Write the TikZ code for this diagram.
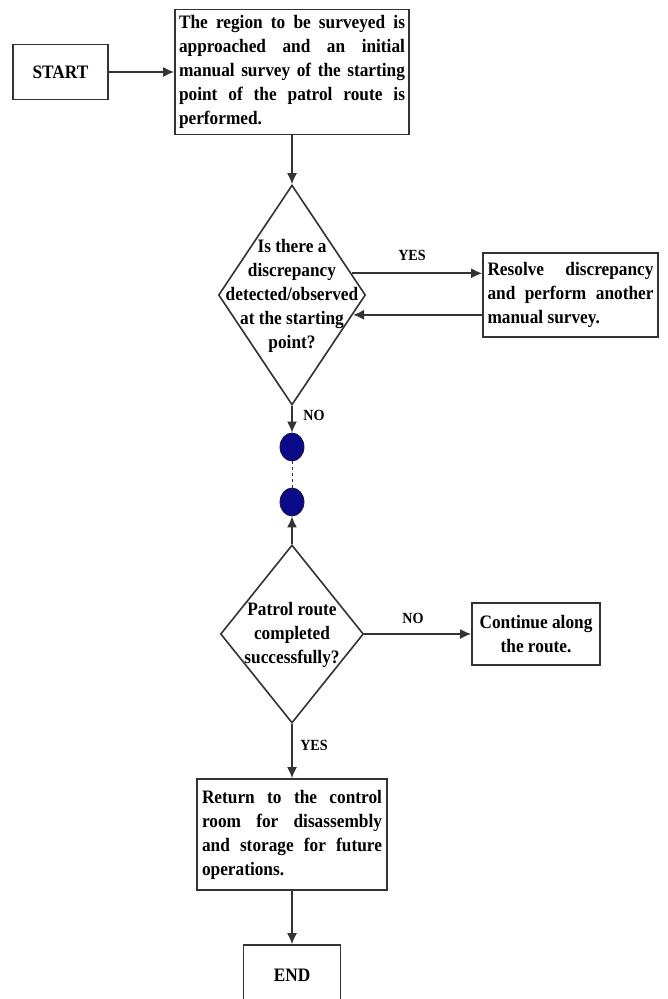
\documentclass[tikz,border=0pt]{standalone}
\usepackage{fontspec}
\setmainfont[FakeStretch=0.91]{Liberation Serif}
\usetikzlibrary{shapes.geometric,arrows.meta}
\definecolor{ln}{HTML}{333333}
\definecolor{dotfill}{HTML}{0B0B8A}
\definecolor{dotline}{HTML}{1A1A40}
\begin{document}
\begin{tikzpicture}[x=1pt,y=-1pt,
  txt/.style={font=\fontsize{19}{24}\selectfont\bfseries, text=black},
  lbl/.style={font=\fontsize{15.5}{17}\selectfont\bfseries, text=black, inner sep=0pt},
  box/.style={txt, draw=ln, line width=1.6pt, rectangle, inner ysep=0pt},
  dia/.style={draw=ln, line width=1.6pt, diamond, inner sep=0pt},
  dtxt/.style={txt, align=center, inner sep=0pt},
  dot/.style={ellipse, draw=dotline, fill=dotfill, line width=0.8pt, minimum width=24pt, minimum height=28pt, inner sep=0pt},
  arr/.style={draw=ln, line width=1.6pt, -{Latex[length=11pt,width=10pt]}},
  link/.style={draw=ln, line width=1.6pt}
]
\useasboundingbox (0,0) rectangle (667,999);

\node[box, minimum width=95pt, minimum height=55pt, align=center] (start) at (60.5,72) {START};

\node[box, minimum width=234pt, minimum height=125pt, text width=226pt, inner xsep=4pt, align=justify] (b1) at (292,72)
 {The region to be surveyed is\linebreak approached and an initial\linebreak manual survey of the starting\linebreak point of the patrol route is\linebreak performed.};

\node[dia, minimum width=147pt, minimum height=220pt] (d1) at (292,295) {};
\node[dtxt] (d1t) at (292,296) {Is there a\\discrepancy\\detected/observed\\at the starting\\point?};

\node[box, minimum width=175pt, minimum height=84pt, text width=166pt, inner xsep=4.5pt, align=justify] (r1) at (570.5,295)
 {Resolve discrepancy\linebreak and perform another\linebreak manual survey.};

\node[dot] (c1) at (292,447) {};
\node[dot] (c2) at (292,502) {};

\node[dia, minimum width=143pt, minimum height=178pt] (d2) at (292,634) {};
\node[dtxt] (d2t) at (292,635) {Patrol route\\completed\\successfully?};

\node[box, minimum width=128pt, minimum height=62pt, align=center] (cont) at (536,634) {Continue along\\the route.};

\node[box, minimum width=190pt, minimum height=111pt, text width=180pt, inner xsep=5pt, align=justify] (ret) at (292,834.5)
 {Return to the control\linebreak room for disassembly\linebreak and storage for future\linebreak operations.};

\node[box, minimum width=97pt, minimum height=60pt, align=center] (end) at (292,975) {END};

% labels
\node[lbl] (yes1) at (412,255) {YES};
\node[lbl] (no1) at (314,415) {NO};
\node[lbl] (no2) at (413,618) {NO};
\node[lbl] (yes2) at (314,745) {YES};

% connectors
\draw[arr] (start) -- (b1);
\draw[arr] (b1) -- (d1);
\draw[arr] (d1.20) -- (d1.20 -| r1.west);
\draw[arr] (r1.west |- d1.342) -- (d1.342);
\draw[arr] (d1.south) -- (c1.north);
\draw[draw=ln, line width=0.9pt, dash pattern=on 3pt off 3pt] (c1.south) -- (c2.north);
\draw[arr] (d2.north) -- (c2.south);
\draw[arr] (d2.east) -- (cont.west);
\draw[arr] (d2.south) -- (ret.north);
\draw[arr] (ret.south) -- (end.north);
\end{tikzpicture}
\end{document}
